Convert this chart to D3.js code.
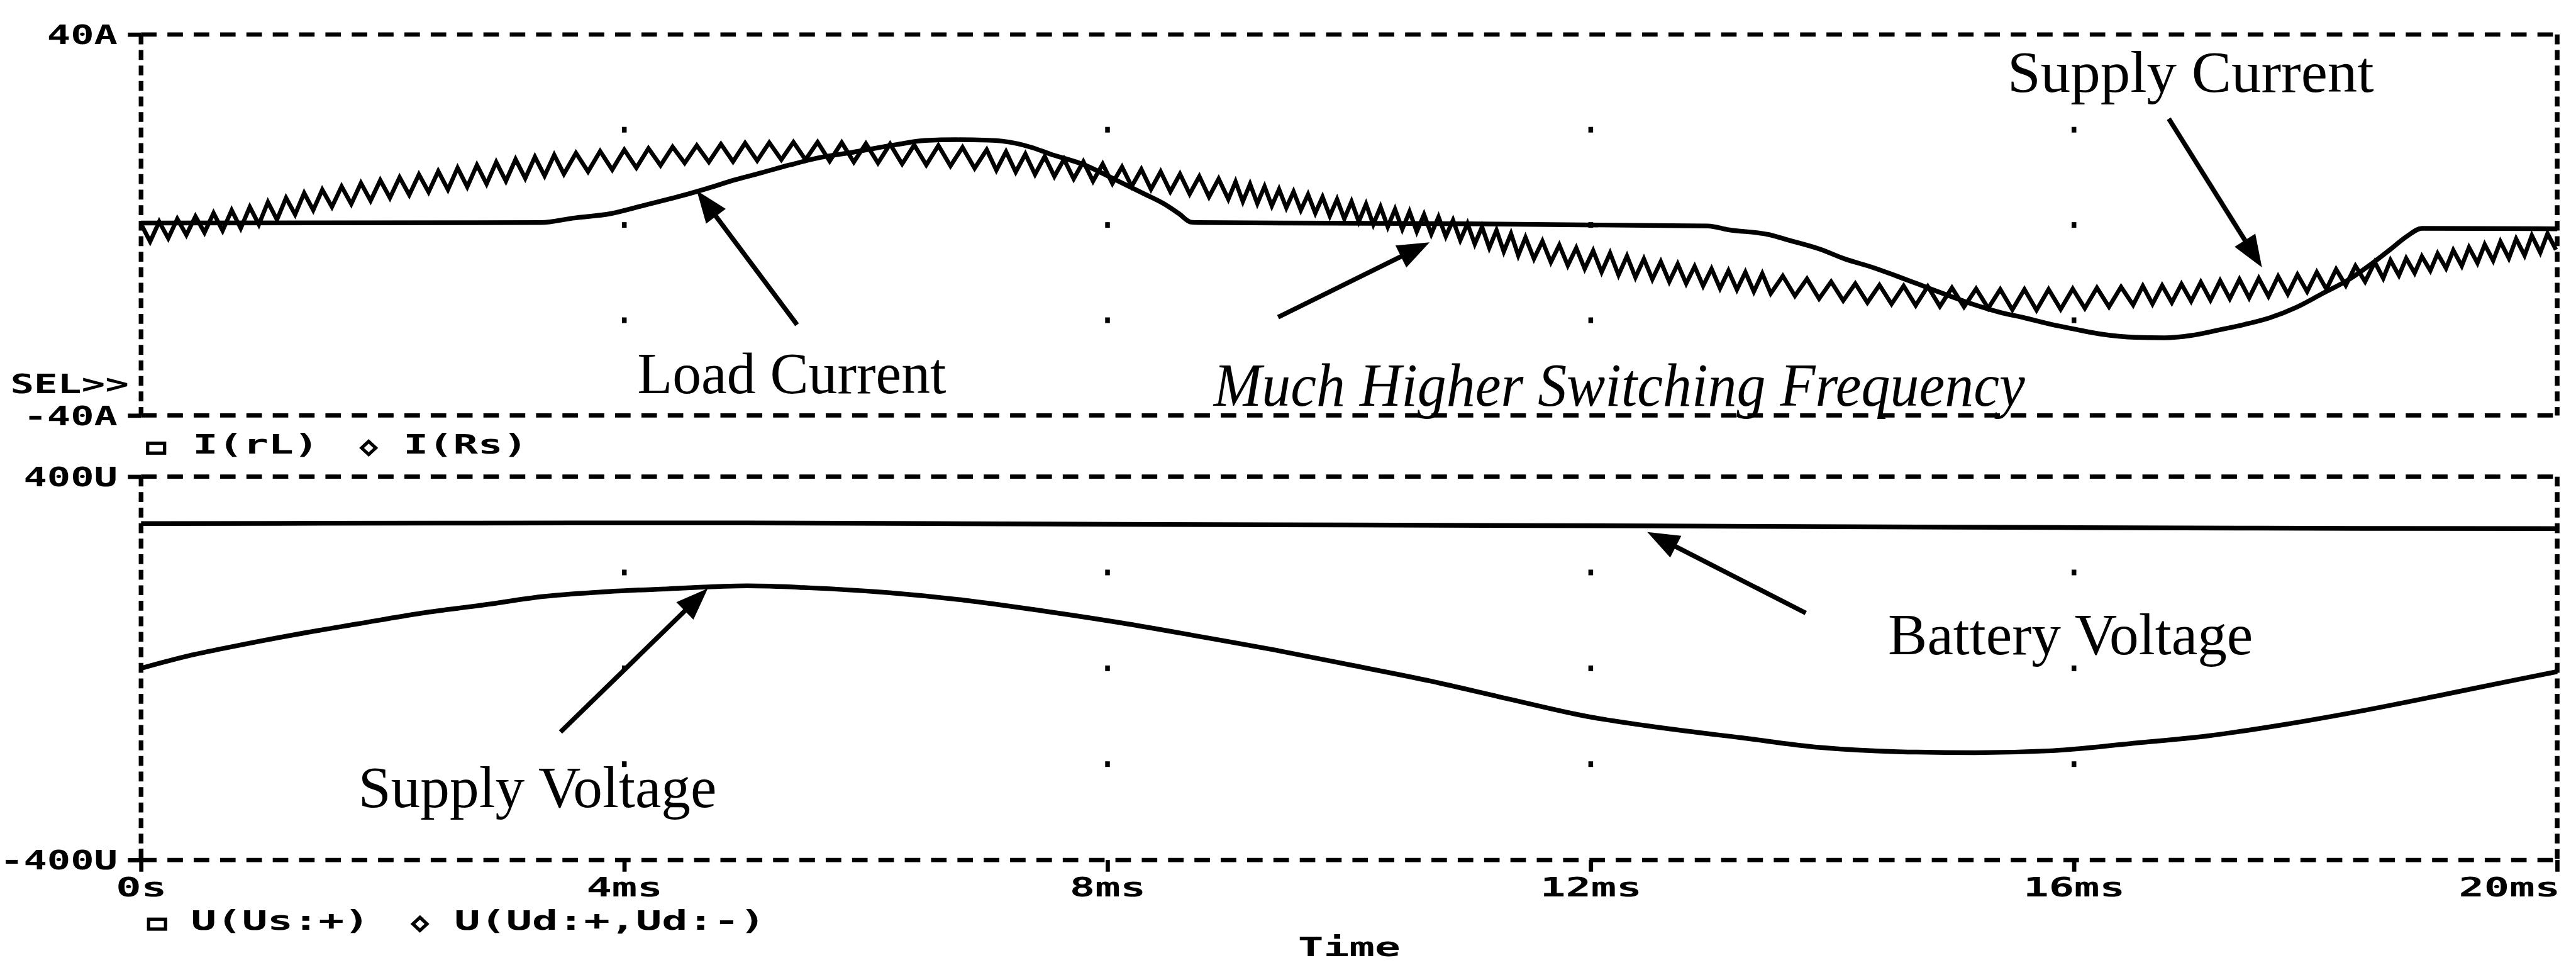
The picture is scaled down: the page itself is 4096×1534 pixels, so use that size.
<!DOCTYPE html>
<html>
<head>
<meta charset="utf-8">
<title>Load / supply current and supply / battery voltage</title>
<script src="https://cdn.jsdelivr.net/npm/d3@7/dist/d3.min.js"></script>
<style>
html,body{margin:0;padding:0;background:#ffffff;overflow:hidden;}
svg{display:block;}
</style>
</head>
<body>
<svg id="chart" width="4096" height="1534" viewBox="0 0 5478 2051"></svg>
<script>
// ---------------- data ----------------
const timeTicks = [0, 4, 8, 12, 16, 20];
const timeTickLabels = ["0s", "4ms", "8ms", "12ms", "16ms", "20ms"];
const currentTicks = [40, -40];
const currentTickLabels = ["40A", "-40A"];
const voltageTicks = [400, -400];
const voltageTickLabels = ["400U", "-400U"];
const gridTimes = [4, 8, 12, 16];
const gridCurrents = [20, 0, -20];
const gridVoltages = [200, 0, -200];
const currentLegend = ["I(rL)", "I(Rs)"];
const voltageLegend = ["U(Us:+)", "U(Ud:+,Ud:-)"];

// I(rL) load current (ms, A)
const loadCurrentT = [0, 3.31, 3.58, 3.89, 4.16, 4.47, 4.69, 4.92, 5.14, 5.37, 5.59, 5.90, 6.26, 6.49, 6.75, 7.01, 7.13, 7.37, 7.52, 7.81, 8.05, 8.29, 8.47, 8.59, 8.69, 8.75, 10.5, 12.97, 13.14, 13.47, 13.64, 13.90, 14.10, 14.32, 14.53, 14.74, 14.95, 15.17, 15.38, 15.59, 15.80, 16.01, 16.22, 16.51, 16.75, 16.97, 17.19, 17.41, 17.62, 17.84, 18.06, 18.28, 18.45, 18.61, 18.76, 18.88, 20];
const loadCurrentA = [0.4, 0.5, 1.45, 2.4, 4.1, 6.1, 7.7, 9.5, 11.0, 12.6, 14.0, 15.3, 16.9, 17.75, 17.9, 17.8, 17.6, 16.3, 14.95, 12.6, 9.7, 6.7, 4.4, 2.4, 0.6, 0.5, 0.3, -0.2, -1.0, -2.0, -3.2, -5.1, -7.1, -8.8, -10.7, -12.7, -14.7, -16.7, -18.3, -19.5, -20.8, -21.9, -22.9, -23.6, -23.7, -23.2, -22.1, -20.9, -19.5, -17.3, -14.35, -11.4, -8.4, -5.3, -2.3, -0.7, -0.8];

// I(Rs) supply current, switching ripple peaks / troughs (ms, A)
const supplyCurrentT = [0,0.075,0.15,0.225,0.3,0.375,0.45,0.525,0.6,0.675,0.75,0.825,0.9,0.975,1.05,1.125,1.2,1.275,1.35,1.425,1.5,
1.58,1.66,1.74,1.82,1.9,1.98,2.06,2.14,2.22,2.3,2.38,2.46,2.54,2.62,2.7,2.78,2.86,2.94,3.02,3.1,3.18,3.26,3.34,3.42,3.5,
3.6,3.7,3.8,3.9,4.0,4.1,4.2,4.3,4.4,4.5,4.6,4.7,4.8,4.9,5.0,5.1,5.2,5.3,5.4,5.5,5.6,5.7,5.8,5.9,6.0,6.1,6.2,6.3,6.4,6.5,6.6,6.7,6.8,6.9,7.0,
7.08,7.16,7.24,7.32,7.4,7.48,7.56,7.64,7.72,7.8,7.88,7.96,8.04,8.12,8.2,8.28,8.36,8.44,8.52,8.6,8.68,8.76,8.84,8.92,9.0,
9.06,9.12,9.18,9.24,9.3,9.36,9.42,9.48,9.54,9.6,9.66,9.72,9.78,9.84,9.9,9.96,10.02,10.08,10.14,10.2,10.26,10.32,10.38,10.44,10.5,10.56,10.62,10.68,10.74,10.8,10.86,10.92,10.98,11.04,11.1,11.16,11.22,11.28,11.34,11.4,11.46,
11.53,11.6,11.67,11.74,11.81,11.88,11.95,12.02,12.09,12.16,12.23,12.3,12.37,12.44,12.51,12.58,12.65,12.72,12.79,12.86,12.93,13.0,13.07,13.14,13.21,13.28,13.35,13.42,13.49,
13.59,13.69,13.79,13.89,13.99,14.09,14.19,14.29,14.39,14.49,14.59,14.69,14.79,14.89,14.99,15.09,15.19,15.29,15.39,15.49,15.59,15.69,15.79,15.89,15.99,16.09,16.19,16.29,16.39,16.49,
16.57,16.65,16.73,16.81,16.89,16.97,17.05,17.13,17.21,17.29,17.37,17.45,17.53,17.61,17.69,17.77,17.85,17.93,18.01,18.09,18.17,18.25,18.33,18.41,18.49,
18.56,18.62,18.69,18.75,18.82,18.88,18.95,19.01,19.08,19.14,19.21,19.27,19.34,19.4,19.47,19.53,19.6,19.66,19.73,19.79,19.86,19.92,19.99];
const supplyCurrentA = [0.2,-3.5,0.7,-2.8,1.3,-2.1,1.8,-1.6,2.5,-1.2,3.1,-0.7,3.8,0.1,4.8,1.1,5.7,2.2,6.7,3.1,7.4,
3.8,8.1,4.4,8.8,5.1,9.4,5.7,10.0,6.3,10.6,6.9,11.3,7.4,12.0,8.0,12.6,8.6,13.2,9.2,13.8,9.8,14.3,10.3,14.7,10.7,
15.1,11.2,15.5,11.6,15.8,12.0,16.1,12.5,16.4,13.0,16.7,13.2,17.0,13.3,17.2,13.5,17.3,13.7,17.4,13.7,17.4,13.4,17.3,13.2,17.1,13.0,17.0,12.8,16.8,12.6,16.7,12.4,16.3,11.9,15.8,
11.5,15.4,11.1,14.9,10.6,14.4,10.2,13.8,9.7,13.3,9.2,12.8,8.7,12.2,8.1,11.7,7.5,11.2,7.0,10.7,6.5,10.2,5.9,9.7,5.4,
9.1,4.9,8.6,4.5,8.1,4.0,7.5,3.6,7.0,3.1,6.4,2.5,5.9,1.9,5.4,1.3,4.9,0.7,4.4,0.1,3.8,-0.4,3.3,-0.9,2.8,-1.4,2.2,-1.9,1.7,-2.4,1.0,-3.2,0.3,-4.0,-0.4,-4.8,-1.1,-5.6,-1.8,-6.4,-2.6,
-7.1,-3.4,-7.8,-4.2,-8.5,-4.8,-9.2,-5.4,-9.9,-5.9,-10.5,-6.5,-11.0,-7.1,-11.4,-7.7,-11.9,-8.2,-12.3,-8.7,-12.8,-9.2,-13.3,-9.6,-13.6,-9.9,-14.0,-10.2,-14.4,
-10.7,-14.9,-11.3,-15.5,-11.9,-15.9,-12.3,-16.3,-12.6,-16.6,-12.8,-16.9,-12.9,-17.1,-13.2,-17.2,-13.4,-17.5,-13.5,-17.8,-13.5,-17.9,-13.5,-17.7,-13.4,-17.5,-13.2,-17.2,-13.0,-16.8,
-12.8,-16.6,-12.7,-16.3,-12.4,-16.0,-12.0,-15.8,-11.7,-15.5,-11.4,-15.3,-11.2,-15.0,-10.8,-14.5,-10.4,-14.0,-9.9,-13.5,-9.3,-12.7,-8.6,-11.9,-7.8,
-11.2,-7.4,-10.6,-7.0,-10.1,-6.6,-9.6,-6.0,-9.1,-5.3,-8.6,-4.7,-8.0,-4.1,-7.5,-3.5,-7.0,-2.9,-6.4,-2.2,-5.8,-1.8,-5.2];

// V(Vs:+) supply voltage (ms, V)
const supplyVoltageT = [0, 0.39, 0.77, 1.29, 1.80, 2.32, 2.83, 3.34, 3.86, 4.37, 5.02, 5.53, 6.18, 6.82, 7.46, 8.11, 8.75, 9.39, 10.03, 10.68, 11.32, 11.96, 12.61, 13.25, 13.89, 14.54, 15.18, 15.82, 16.47, 17.11, 17.75, 18.40, 19.04, 19.68, 20.0];
const supplyVoltageV = [0, 26, 46, 71, 93, 115, 132, 150, 160, 166, 172, 168, 158, 142, 120, 95, 67, 38, 6, -27, -64, -100, -125, -145, -165, -174, -176, -172, -157, -141, -117, -88, -56, -23, -7];

// V(Vd:+,Vd:-) battery voltage (ms, V)
const batteryVoltageT = [0, 2.5, 5, 7.5, 10, 12.5, 15, 17.5, 20];
const batteryVoltageV = [302, 303, 303.5, 301, 299, 297, 294.5, 292.5, 291.5];

// ---------------- drawing ----------------
const svg = d3.select("#chart");
svg.append("rect").attr("x", 0).attr("y", 0).attr("width", 5478).attr("height", 2051).attr("fill", "#ffffff");

const x = d3.scaleLinear().domain([0, 20]).range([300, 5438]);
const yI = d3.scaleLinear().domain([-40, 40]).range([883, 73]);
const yV = d3.scaleLinear().domain([-400, 400]).range([1828, 1013]);

const MONO = "'DejaVu Sans Mono', 'Liberation Mono', monospace";
const SERIF = "'Liberation Serif', 'DejaVu Serif', serif";
const MONO_SIZE = 56;

// dashed frames
function frame(y) {
  const g = svg.append("g").attr("stroke", "#000").attr("fill", "none");
  const [ymin, ymax] = y.domain();
  const top = y(ymax), bot = y(ymin), left = x(0), right = x(20);
  [top, bot].forEach(yy => g.append("line")
    .attr("x1", left).attr("x2", right).attr("y1", yy).attr("y2", yy)
    .attr("stroke-width", 9).attr("stroke-dasharray", "33 23"));
  [left, right].forEach(xx => g.append("line")
    .attr("x1", xx).attr("x2", xx).attr("y1", top).attr("y2", bot)
    .attr("stroke-width", 10).attr("stroke-dasharray", "21 12"));
}
frame(yI);
frame(yV);

// grid dots
function gridDots(y, vals) {
  const pts = [];
  gridTimes.forEach(t => vals.forEach(v => pts.push([t, v])));
  svg.append("g").selectAll("rect").data(pts).join("rect")
    .attr("x", d => x(d[0]) - 5).attr("y", d => y(d[1]) - 6)
    .attr("width", 10).attr("height", 12).attr("fill", "#000");
}
gridDots(yI, gridCurrents);
gridDots(yV, gridVoltages);

// y axes
function yAxis(y, ticks, labels) {
  const g = svg.append("g").attr("transform", `translate(${x(0)},0)`)
    .call(d3.axisLeft(y).tickValues(ticks).tickFormat((d, i) => labels[i]).tickSize(28).tickPadding(22));
  g.select(".domain").remove();
  g.selectAll(".tick line").attr("stroke", "#000").attr("stroke-width", 9);
  g.selectAll(".tick text")
    .attr("fill", "#000").attr("font-family", MONO).attr("font-weight", "bold")
    .attr("font-size", MONO_SIZE).attr("dy", "0.36em")
    .attr("textLength", (d, i) => labels[i].length * 50)
    .attr("lengthAdjust", "spacingAndGlyphs");
  return g;
}
yAxis(yI, currentTicks, currentTickLabels);
yAxis(yV, voltageTicks, voltageTickLabels);

// x axis
const xg = svg.append("g").attr("transform", `translate(0,${yV(-400)})`)
  .call(d3.axisBottom(x).tickValues(timeTicks).tickFormat((d, i) => timeTickLabels[i]).tickSize(25).tickPadding(13));
xg.select(".domain").remove();
xg.selectAll(".tick line").attr("stroke", "#000").attr("stroke-width", 9)
  .attr("y1", (d, i) => i === 0 ? -24 : 0);
xg.selectAll(".tick text")
  .attr("fill", "#000").attr("font-family", MONO).attr("font-weight", "bold")
  .attr("font-size", MONO_SIZE)
  .attr("textLength", (d, i) => timeTickLabels[i].length * 54)
  .attr("lengthAdjust", "spacingAndGlyphs")
  .attr("text-anchor", (d, i) => i === timeTicks.length - 1 ? "end" : "middle")
  .attr("x", (d, i) => i === timeTicks.length - 1 ? 6 : 0);

function monoText(str, px, py, len, anchor) {
  svg.append("text").attr("x", px).attr("y", py).text(str)
    .attr("font-family", MONO).attr("font-weight", "bold").attr("font-size", MONO_SIZE)
    .attr("fill", "#000").attr("text-anchor", anchor || "start")
    .attr("textLength", len).attr("lengthAdjust", "spacingAndGlyphs");
}
monoText("SEL>>", 22, 836, 252);
monoText("Time", x(10), 2033, 218, "middle");

// legends
function legend(labels, baseline, sqX, dmX, txtX, lens) {
  svg.append("rect").attr("x", sqX).attr("y", baseline - 22).attr("width", 36).attr("height", 21)
    .attr("fill", "none").attr("stroke", "#000").attr("stroke-width", 7);
  svg.append("path")
    .attr("d", `M${dmX},${baseline - 26}L${dmX + 15},${baseline - 12}L${dmX},${baseline + 2}L${dmX - 15},${baseline - 12}Z`)
    .attr("fill", "none").attr("stroke", "#000").attr("stroke-width", 7);
  labels.forEach((l, i) => monoText(l, txtX[i], baseline, lens[i]));
}
legend(currentLegend, 964, 314, 784, [410, 858], [268, 264]);
legend(voltageLegend, 1976, 316, 893, [406, 966], [380, 662]);

// waveforms
const lineI = d3.line().x(d => x(d[0])).y(d => yI(d[1]));
const lineISmooth = d3.line().x(d => x(d[0])).y(d => yI(d[1])).curve(d3.curveMonotoneX);
const lineVSmooth = d3.line().x(d => x(d[0])).y(d => yV(d[1])).curve(d3.curveMonotoneX);

svg.append("path").datum(d3.zip(supplyCurrentT, supplyCurrentA)).attr("d", lineI)
  .attr("fill", "none").attr("stroke", "#000").attr("stroke-width", 9)
  .attr("stroke-linejoin", "miter").attr("stroke-miterlimit", 3);
svg.append("path").datum(d3.zip(loadCurrentT, loadCurrentA)).attr("d", lineISmooth)
  .attr("fill", "none").attr("stroke", "#000").attr("stroke-width", 10);
svg.append("path").datum(d3.zip(supplyVoltageT, supplyVoltageV)).attr("d", lineVSmooth)
  .attr("fill", "none").attr("stroke", "#000").attr("stroke-width", 10);
svg.append("path").datum(d3.zip(batteryVoltageT, batteryVoltageV)).attr("d", lineVSmooth)
  .attr("fill", "none").attr("stroke", "#000").attr("stroke-width", 10);

// annotations (positions in data units of their panel)
const annotations = [
  { text: "Load Current", y: yI, tx: 4.107, ty: -35.26, len: 657, italic: false, size: 124, from: [5.43, -20.94], to: [4.60, 7.21] },
  { text: "Much Higher Switching Frequency", y: yI, tx: 8.879, ty: -37.93, len: 1725, italic: true, size: 131, from: [9.412, -19.36], to: [10.666, -3.65] },
  { text: "Supply Current", y: yI, tx: 15.45, ty: 27.95, len: 779, italic: false, size: 124, from: [16.785, 22.3], to: [17.556, -8.9] },
  { text: "Battery Voltage", y: yV, tx: 14.461, ty: 29.9, len: 776, italic: false, size: 124, from: [13.78, 115.3], to: [12.468, 284.2] },
  { text: "Supply Voltage", y: yV, tx: 1.798, ty: -289.1, len: 762, italic: false, size: 124, from: [3.472, -133.0], to: [4.691, 166.4] }
];
const ag = svg.append("g");
annotations.forEach(a => {
  ag.append("text").attr("x", x(a.tx)).attr("y", a.y(a.ty)).text(a.text)
    .attr("font-family", SERIF).attr("font-size", a.size)
    .attr("font-style", a.italic ? "italic" : "normal")
    .attr("fill", "#000")
    .attr("textLength", a.len).attr("lengthAdjust", "spacingAndGlyphs");
  const x1 = x(a.from[0]), y1 = a.y(a.from[1]);
  const x2 = x(a.to[0]), y2 = a.y(a.to[1]);
  const dx = x2 - x1, dy = y2 - y1, L = Math.hypot(dx, dy), ux = dx / L, uy = dy / L;
  const hl = 68, hw = 26;
  const bx = x2 - ux * hl, by = y2 - uy * hl;
  ag.append("line").attr("x1", x1).attr("y1", y1).attr("x2", bx + ux * 6).attr("y2", by + uy * 6)
    .attr("stroke", "#000").attr("stroke-width", 10);
  ag.append("path")
    .attr("d", `M${x2},${y2}L${bx - uy * hw},${by + ux * hw}L${bx + uy * hw},${by - ux * hw}Z`)
    .attr("fill", "#000");
});
</script>
</body>
</html>
